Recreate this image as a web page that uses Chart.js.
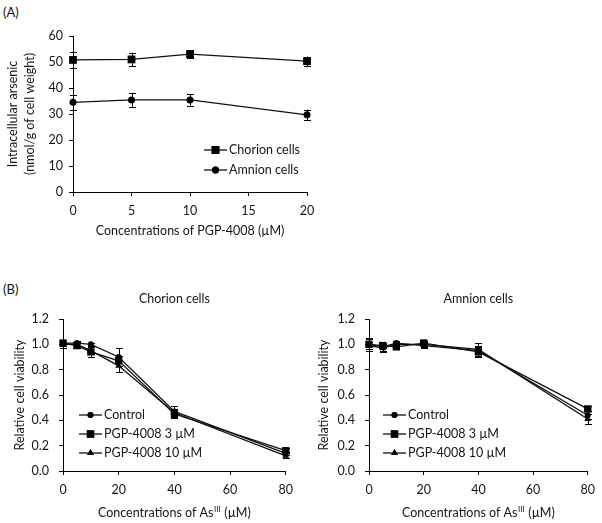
<!DOCTYPE html>
<html>
<head>
<meta charset="utf-8">
<script src="https://cdn.jsdelivr.net/npm/chart.js@4.4.0/dist/chart.umd.min.js"></script>
<style>
body{margin:0;background:#fff;width:602px;height:523px;position:relative;overflow:hidden;font-family:Lato,sans-serif;}
canvas{position:absolute;}
.lab{position:absolute;font-size:13px;color:#111;}
</style>
</head>
<body>
<div class="lab" style="left:3px;top:4px">(A)</div>
<canvas id="chartA" width="330" height="245" style="left:0;top:0"></canvas>
<div class="lab" style="left:3px;top:281px">(B)</div>
<canvas id="chartB1" width="300" height="245" style="left:0;top:278px"></canvas>
<canvas id="chartB2" width="302" height="245" style="left:300px;top:278px"></canvas>
<script>
// (A) intracellular arsenic vs PGP-4008
var concA = [0, 5, 10, 20];
var chorionA = [50.8, 51.0, 53.0, 50.3];
var chorionAErr = [3.0, 2.5, 1.5, 1.8];
var amnionA = [34.5, 35.4, 35.4, 29.7];
var amnionAErr = [3.0, 2.6, 2.2, 2.0];

// (B) cell viability vs AsIII
var concB = [0, 5, 10, 20, 40, 80];
var chorionCtrl = [1.01, 1.01, 1.00, 0.90, 0.47, 0.14];
var chorionCtrlErr = [0.02, 0.02, 0.01, 0.07, 0.04, 0.01];
var chorionP3 = [1.01, 0.99, 0.94, 0.87, 0.45, 0.16];
var chorionP3Err = [0.02, 0.02, 0.04, 0.04, 0.03, 0.02];
var chorionP10 = [1.00, 1.00, 0.95, 0.83, 0.46, 0.12];
var chorionP10Err = [0.03, 0.02, 0.03, 0.05, 0.03, 0.02];

var amnionCtrl = [1.00, 0.98, 1.01, 0.99, 0.95, 0.44];
var amnionCtrlErr = [0.05, 0.03, 0.02, 0.02, 0.04, 0.03];
var amnionP3 = [1.00, 0.99, 0.98, 1.01, 0.94, 0.49];
var amnionP3Err = [0.04, 0.02, 0.02, 0.02, 0.04, 0.02];
var amnionP10 = [0.99, 0.97, 1.00, 1.00, 0.96, 0.41];
var amnionP10Err = [0.03, 0.03, 0.02, 0.02, 0.05, 0.04];

var FONT = 'Lato';
var FS = 12.5;
var INK = '#151515';

function pts(xs, ys){
  return xs.map(function(x, i){ return {x: x, y: ys[i]}; });
}

function series(label, xs, ys, style, r){
  return {
    label: label,
    data: pts(xs, ys),
    borderColor: '#111',
    borderWidth: 1.3,
    pointStyle: style,
    pointRadius: r,
    pointHoverRadius: r,
    pointBackgroundColor: '#000',
    pointBorderColor: '#000',
    pointBorderWidth: 0,
    tension: 0,
    clip: false
  };
}

// error bars, legend and x title drawn with the chart's own scales
var extras = {
  id: 'extras',
  beforeDatasetsDraw: function(chart, args, opts){
    var ctx = chart.ctx, xs = chart.scales.x, ys = chart.scales.y;
    ctx.save();
    ctx.strokeStyle = '#000';
    ctx.lineWidth = 1;
    chart.data.datasets.forEach(function(ds, di){
      var errs = opts.errs[di];
      ds.data.forEach(function(p, i){
        var px = Math.round(xs.getPixelForValue(p.x)) + 0.5;
        var y1 = ys.getPixelForValue(p.y + errs[i]);
        var y2 = ys.getPixelForValue(p.y - errs[i]);
        ctx.beginPath();
        ctx.moveTo(px, y1); ctx.lineTo(px, y2);
        ctx.moveTo(px - 3.5, Math.round(y1) + 0.5); ctx.lineTo(px + 3.5, Math.round(y1) + 0.5);
        ctx.moveTo(px - 3.5, Math.round(y2) + 0.5); ctx.lineTo(px + 3.5, Math.round(y2) + 0.5);
        ctx.stroke();
      });
    });
    ctx.restore();
  },
  afterDraw: function(chart, args, opts){
    var ctx = chart.ctx, area = chart.chartArea;
    var f = FS + 'px ' + FONT;
    ctx.save();
    ctx.fillStyle = INK;
    ctx.textBaseline = 'middle';
    // legend
    var lg = opts.legend;
    chart.data.datasets.forEach(function(ds, di){
      var y = lg.y + di * lg.gap;
      ctx.strokeStyle = '#111';
      ctx.lineWidth = 1.3;
      ctx.beginPath();
      ctx.moveTo(lg.x0, y); ctx.lineTo(lg.x1, y);
      ctx.stroke();
      Chart.helpers.drawPoint(ctx, {pointStyle: ds.pointStyle, radius: ds.pointRadius, borderWidth: 0}, (lg.x0 + lg.x1) / 2, y);
      ctx.fillStyle = '#000';
      ctx.fill();
      ctx.fillStyle = INK;
      ctx.font = f;
      ctx.textAlign = 'left';
      ctx.fillText(ds.label, lg.x1 + 2, y);
    });
    // chart title
    var cx = (area.left + area.right) / 2;
    if (opts.title) {
      ctx.font = f;
      ctx.textAlign = 'center';
      ctx.fillText(opts.title, cx, opts.titleY);
    }
    // x axis title with optional superscript
    var t = opts.xTitle;
    ctx.font = f;
    var w1 = ctx.measureText(t[0]).width;
    var w3 = ctx.measureText(t[2]).width;
    ctx.font = '8px ' + FONT;
    var w2 = t[1] ? ctx.measureText(t[1]).width + 1 : 0;
    var x = cx - (w1 + w2 + w3) / 2;
    ctx.textAlign = 'left';
    ctx.font = f;
    ctx.fillText(t[0], x, opts.xTitleY);
    if (t[1]) {
      ctx.font = '8px ' + FONT;
      ctx.fillText(t[1], x + w1 + 0.5, opts.xTitleY - 4);
    }
    ctx.font = f;
    ctx.fillText(t[2], x + w1 + w2, opts.xTitleY);
    ctx.restore();
  }
};

function axis(min, max, step, fmt, pad, extra){
  var a = {
    type: 'linear',
    min: min, max: max,
    grid: {display: true, drawOnChartArea: false, drawTicks: true, tickLength: 4, color: '#000'},
    border: {display: true, color: '#000', width: 1},
    ticks: {stepSize: step, color: INK, font: {family: FONT, size: FS}, padding: pad,
            callback: function(v){ return fmt(v); }}
  };
  for (var k in extra) a[k] = extra[k];
  return a;
}

function makeChart(id, datasets, cfg){
  return new Chart(document.getElementById(id), {
    type: 'line',
    data: {datasets: datasets},
    plugins: [extras],
    options: {
      responsive: false,
      animation: false,
      events: [],
      layout: {padding: {top: cfg.top, right: cfg.right, left: 0, bottom: 0}},
      scales: {
        x: axis(cfg.x[0], cfg.x[1], cfg.x[2], function(v){ return v; }, 7, {
          afterFit: function(s){ s.height = cfg.xh; }
        }),
        y: axis(cfg.y[0], cfg.y[1], cfg.y[2], cfg.yfmt, cfg.ypad, {
          afterFit: function(s){ s.width = cfg.yw; },
          title: {display: true, text: cfg.yTitle, color: INK,
                  font: {family: FONT, size: FS, lineHeight: 1.35}, padding: {top: cfg.ytp, bottom: 0}}
        })
      },
      plugins: {
        legend: {display: false},
        tooltip: {enabled: false},
        extras: {errs: cfg.errs, legend: cfg.legend, title: cfg.title, titleY: cfg.titleY,
                 xTitle: cfg.xTitle, xTitleY: cfg.xTitleY}
      }
    }
  });
}

makeChart('chartA', [
  series('Chorion cells', concA, chorionA, 'rect', 5.5),
  series('Amnion cells', concA, amnionA, 'circle', 3.5)
], {
  top: 36, right: 23, xh: 53, yw: 73,
  x: [0, 20, 5], y: [0, 60, 10], yfmt: function(v){ return v; }, ypad: 6,
  yTitle: ['Intracellular arsenic', '(nmol/g of cell weight)'], ytp: 5,
  errs: [chorionAErr, amnionAErr],
  legend: {x0: 204, x1: 227, y: 150, gap: 20},
  title: null, titleY: 0,
  xTitle: ['Concentrations of PGP-4008 (\u00b5M)', '', ''], xTitleY: 231
});

var legB = ['Control', 'PGP-4008 3 \u00b5M', 'PGP-4008 10 \u00b5M'];
var xTitleB = ['Concentrations of As', 'III', ' (\u00b5M)'];

makeChart('chartB1', [
  series(legB[0], concB, chorionCtrl, 'circle', 3),
  series(legB[1], concB, chorionP3, 'rect', 5.2),
  series(legB[2], concB, chorionP10, 'triangle', 4)
], {
  top: 41, right: 14, xh: 52, yw: 63,
  x: [0, 80, 20], y: [0, 1.2, 0.2], yfmt: function(v){ return v.toFixed(1); }, ypad: 10,
  yTitle: 'Relative cell viability', ytp: 12,
  errs: [chorionCtrlErr, chorionP3Err, chorionP10Err],
  legend: {x0: 79, x1: 102, y: 137, gap: 19},
  title: 'Chorion cells', titleY: 21,
  xTitle: xTitleB, xTitleY: 235
});

makeChart('chartB2', [
  series(legB[0], concB, amnionCtrl, 'circle', 3),
  series(legB[1], concB, amnionP3, 'rect', 5.2),
  series(legB[2], concB, amnionP10, 'triangle', 4)
], {
  top: 41, right: 11, xh: 52, yw: 69,
  x: [0, 80, 20], y: [0, 1.2, 0.2], yfmt: function(v){ return v.toFixed(1); }, ypad: 10,
  yTitle: 'Relative cell viability', ytp: 16,
  errs: [amnionCtrlErr, amnionP3Err, amnionP10Err],
  legend: {x0: 83, x1: 106, y: 137, gap: 19},
  title: 'Amnion cells', titleY: 21,
  xTitle: xTitleB, xTitleY: 235
});
</script>
</body>
</html>
